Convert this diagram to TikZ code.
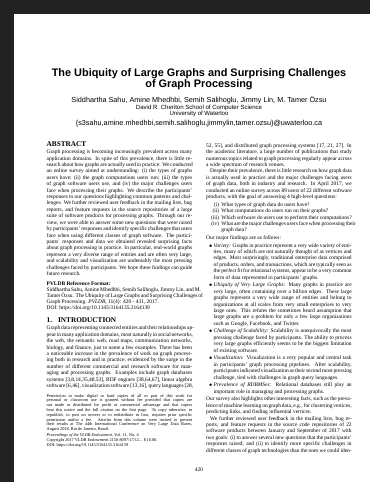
\documentclass[tikz,border=0pt]{standalone}
\usepackage{fontspec}
\setmainfont{Liberation Serif}
\newfontfamily\headsans{Liberation Sans}
\definecolor{deskgray}{HTML}{222222}

\newlength\colw
\setlength\colw{145.5pt}
% column fonts
\newcommand\bodyfont{\fontsize{5.45}{6.42}\selectfont}
\newcommand\reffont{\fontsize{5.45}{6.0}\selectfont}
\newcommand\notefont{\fontsize{4.3}{4.8}\selectfont}
\newcommand\headfont{\fontsize{7.26}{8}\selectfont\bfseries}
% set lines: justified, paragraph end, indented paragraph start
\newcommand\jl[1]{\hbox to\hsize{#1}}
\newcommand\el[1]{\hbox to\hsize{#1\hfil}}
\newcommand\pl[1]{\hbox to\hsize{\hskip4pt\relax#1}}
% list helpers
\newcommand\ind{\hskip7.5pt\relax}
\newcommand\bul{\hbox to7.5pt{\hskip2.6pt$\bullet$\hss}}
\newcommand\enumlabel[1]{\hbox to13pt{\hss#1}\hskip2.2pt\relax}
\newcommand\gap{\kern1.2pt}

\begin{document}
\begin{tikzpicture}[x=1pt,y=-1pt,
  txt/.style={inner sep=0pt, outer sep=0pt},
  colblock/.style={txt, anchor=base west}]
\useasboundingbox (0,0) rectangle (370,482);
\fill[deskgray] (0,0) rectangle (370,482);
\fill[white] (14,14) rectangle (370,482);

% title block
\node[txt, anchor=base] (title1) at (199,76.5)
  {\headsans\bfseries\fontsize{10.9}{12}\selectfont The Ubiquity of Large Graphs and Surprising Challenges};
\node[txt, anchor=base] (title2) at (199,87.5)
  {\headsans\bfseries\fontsize{10.9}{12}\selectfont of Graph Processing};
\node[txt, anchor=base] (authors) at (199,102.5)
  {\headsans\fontsize{7.26}{8}\selectfont Siddhartha Sahu, Amine Mhedhbi, Semih Salihoglu, Jimmy Lin, M. Tamer Özsu};
\node[txt, anchor=base] (dept) at (199,109)
  {\headsans\fontsize{6.05}{7}\selectfont David R. Cheriton School of Computer Science};
\node[txt, anchor=base] (univ) at (199,115.3)
  {\headsans\fontsize{6.05}{7}\selectfont University of Waterloo};
\node[txt, anchor=base] (email) at (199,125)
  {\headsans\fontsize{7.26}{8}\selectfont \{s3sahu,amine.mhedhbi,semih.salihoglu,jimmylin,tamer.ozsu\}@uwaterloo.ca};

% left column
\node[colblock] (abshead) at (46.7,146.7) {\headfont ABSTRACT};
\node[colblock] (abstract) at (46.7,153.6) {\vtop{\hsize\colw\bodyfont
\jl{Graph processing is becoming increasingly prevalent across many}
\jl{application domains. In spite of this prevalence, there is little re-}
\jl{search about how graphs are actually used in practice. We conducted}
\jl{an online survey aimed at understanding: (i) the types of graphs}
\jl{users have; (ii) the graph computations users run; (iii) the types}
\jl{of graph software users use, and (iv) the major challenges users}
\jl{face when processing their graphs. We describe the participants'}
\jl{responses to our questions highlighting common patterns and chal-}
\jl{lenges. We further reviewed user feedback in the mailing lists, bug}
\jl{reports, and feature requests in the source repositories of a large}
\jl{suite of software products for processing graphs. Through our re-}
\jl{view, we were able to answer some new questions that were raised}
\jl{by participants' responses and identify specific challenges that users}
\jl{face when using different classes of graph software. The partici-}
\jl{pants' responses and data we obtained revealed surprising facts}
\jl{about graph processing in practice. In particular, real-world graphs}
\jl{represent a very diverse range of entities and are often very large,}
\jl{and scalability and visualization are undeniably the most pressing}
\jl{challenges faced by participants. We hope these findings can guide}
\el{future research.}}};

\node[colblock] (pvldb) at (46.7,285) {\vtop{\hsize\colw\reffont
\el{\bfseries PVLDB Reference Format:}
\jl{Siddhartha Sahu, Amine Mhedhbi, Semih Salihoglu, Jimmy Lin, and M.}
\jl{Tamer Özsu. The Ubiquity of Large Graphs and Surprising Challenges of}
\el{Graph Processing. \textit{PVLDB}, 11(4): 420 - 431, 2017.}
\el{DOI: https://doi.org/10.1145/3164135.3164139}}};

\node[colblock] (introhead) at (46.7,322.6) {\headfont 1.\hskip6pt INTRODUCTION};
\node[colblock] (intro) at (46.7,329.8) {\vtop{\hsize\colw\bodyfont
\jl{Graph data representing connected entities and their relationships ap-}
\jl{pear in many application domains, most naturally in social networks,}
\jl{the web, the semantic web, road maps, communication networks,}
\jl{biology, and finance, just to name a few examples. There has been}
\jl{a noticeable increase in the prevalence of work on graph process-}
\jl{ing both in research and in practice, evidenced by the surge in the}
\jl{number of different commercial and research software for man-}
\jl{aging and processing graphs. Examples include graph databases}
\jl{systems [3,8,14,35,48,53], RDF engines [38,64,67], linear algebra}
\jl{software [6,46], visualization software [13,16], query languages [28,}}};

\node[colblock] (copyright) at (46.7,397) {\vtop{\hsize\colw\notefont
\jl{Permission to make digital or hard copies of all or part of this work for}
\jl{personal or classroom use is granted without fee provided that copies are}
\jl{not made or distributed for profit or commercial advantage and that copies}
\jl{bear this notice and the full citation on the first page. To copy otherwise, to}
\jl{republish, to post on servers or to redistribute to lists, requires prior specific}
\jl{permission and/or a fee. Articles from this volume were invited to present}
\jl{their results at The 44th International Conference on Very Large Data Bases,}
\el{August 2018, Rio de Janeiro, Brazil.}
\kern1.5pt
\el{\textit{Proceedings of the VLDB Endowment,} Vol. 11, No. 4}
\el{Copyright 2017 VLDB Endowment 2150-8097/17/12... \$\,10.00.}
\el{DOI: https://doi.org/10.1145/3164135.3164139}}};

% right column
\node[colblock] (rightcol) at (206.2,147.2) {\vtop{\hsize\colw\bodyfont
\jl{52, 55], and distributed graph processing systems [17, 21, 27]. In}
\jl{the academic literature, a large number of publications that study}
\jl{numerous topics related to graph processing regularly appear across}
\el{a wide spectrum of research venues.}
\pl{Despite their prevalence, there is little research on how graph data}
\jl{is actually used in practice and the major challenges facing users}
\jl{of graph data, both in industry and research. In April 2017, we}
\jl{conducted an online survey across 89 users of 22 different software}
\el{products, with the goal of answering 4 high-level questions:}
\gap
\el{\enumlabel{(i)}What types of graph data do users have?}
\el{\enumlabel{(ii)}What computations do users run on their graphs?}
\el{\enumlabel{(iii)}Which software do users use to perform their computations?}
\jl{\enumlabel{(iv)}What are the major challenges users face when processing their}
\el{\hskip15.2pt\relax graph data?}
\gap
\el{Our major findings are as follows:}
\gap
\jl{\bul\textit{Variety:} Graphs in practice represent a very wide variety of enti-}
\jl{\ind ties, many of which are not naturally thought of as vertices and}
\jl{\ind edges. Most surprisingly, traditional enterprise data comprised}
\jl{\ind of products, orders, and transactions, which are typically seen as}
\jl{\ind the perfect fit for relational systems, appear to be a very common}
\el{\ind form of data represented in participants' graphs.}
\gap
\jl{\bul\textit{Ubiquity of Very Large Graphs:} Many graphs in practice are}
\jl{\ind very large, often containing over a billion edges. These large}
\jl{\ind graphs represent a very wide range of entities and belong to}
\jl{\ind organizations at all scales from very small enterprises to very}
\jl{\ind large ones. This refutes the sometimes heard assumption that}
\jl{\ind large graphs are a problem for only a few large organizations}
\el{\ind such as Google, Facebook, and Twitter.}
\gap
\jl{\bul\textit{Challenge of Scalability:} Scalability is unequivocally the most}
\jl{\ind pressing challenge faced by participants. The ability to process}
\jl{\ind very large graphs efficiently seems to be the biggest limitation}
\el{\ind of existing software.}
\gap
\jl{\bul\textit{Visualization:} Visualization is a very popular and central task}
\jl{\ind in participants' graph processing pipelines. After scalability,}
\jl{\ind participants indicated visualization as their second most pressing}
\el{\ind challenge, tied with challenges in graph query languages.}
\gap
\jl{\bul\textit{Prevalence of RDBMSes:} Relational databases still play an}
\el{\ind important role in managing and processing graphs.}
\gap
\jl{Our survey also highlights other interesting facts, such as the preva-}
\jl{lence of machine learning on graph data, e.g., for clustering vertices,}
\el{predicting links, and finding influential vertices.}
\pl{We further reviewed user feedback in the mailing lists, bug re-}
\jl{ports, and feature requests in the source code repositories of 22}
\jl{software products between January and September of 2017 with}
\jl{two goals: (i) to answer several new questions that the participants'}
\jl{responses raised; and (ii) to identify more specific challenges in}
\jl{different classes of graph technologies than the ones we could iden-}}};

% folio
\node[txt, anchor=base] (folio) at (199,471) {\bodyfont 420};
\end{tikzpicture}
\end{document}
